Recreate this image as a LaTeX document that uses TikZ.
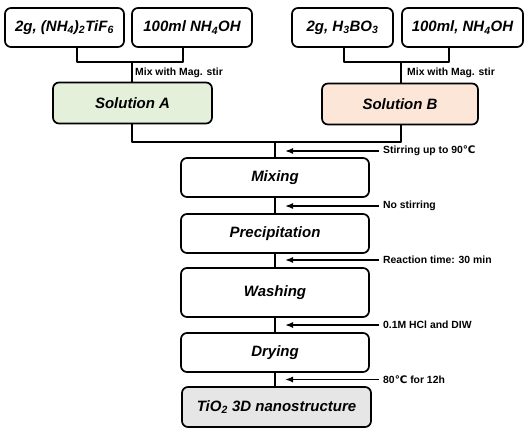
\documentclass[tikz,border=0pt]{standalone}
\usepackage{fontspec}
\setmainfont{Liberation Sans}
\newfontfamily\degfont{DejaVu Sans}
\usetikzlibrary{arrows.meta}

\definecolor{solAfill}{HTML}{E4F0DA}
\definecolor{solBfill}{HTML}{FCE6D8}
\definecolor{prodfill}{HTML}{E6E6E6}

\newcommand{\degC}{{\degfont\bfseries ℃}}

\tikzset{
  stepbox/.style={draw, line width=1.7pt, rounded corners=6pt, align=center,
    inner sep=0pt, font=\bfseries\itshape\fontsize{15}{18}\selectfont},
  link/.style={line width=1.5pt},
  cond/.style={-{Latex[length=8pt,width=6pt]}, line width=1.5pt},
  note/.style={anchor=west, inner sep=1pt, font=\bfseries\fontsize{10.4}{12}\selectfont}
}

\begin{document}
\begin{tikzpicture}[x=1pt, y=-1pt, line join=round]
\useasboundingbox (0,0) rectangle (530,434);

% starting materials
\node[stepbox, minimum width=119pt, minimum height=39pt] (amF) at (64.5,27.5) {2g, (NH\textsubscript{4})\textsubscript{2}TiF\textsubscript{6}};
\node[stepbox, minimum width=120pt, minimum height=39pt] (amA) at (192,27.5) {100ml NH\textsubscript{4}OH};
\node[stepbox, minimum width=101pt, minimum height=39pt] (boric) at (342.5,27.5) {2g, H\textsubscript{3}BO\textsubscript{3}};
\node[stepbox, minimum width=121pt, minimum height=39pt] (amB) at (462.5,27.5) {100ml, NH\textsubscript{4}OH};

% solutions
\node[stepbox, fill=solAfill, minimum width=159pt, minimum height=41pt] (solA) at (132.5,103) {Solution A};
\node[stepbox, fill=solBfill, minimum width=156pt, minimum height=41pt] (solB) at (400,104) {Solution B};

% process steps
\node[stepbox, minimum width=188pt, minimum height=39pt] (mix) at (275,177.5) {Mixing};
\node[stepbox, minimum width=188pt, minimum height=39pt] (prec) at (275,233.5) {Precipitation};
\node[stepbox, minimum width=188pt, minimum height=49pt] (wash) at (275,292.5) {Washing};
\node[stepbox, minimum width=188pt, minimum height=39pt] (dry) at (275,352.5) {Drying};
\node[stepbox, fill=prodfill, minimum width=189pt, minimum height=40pt] (prod) at (276.5,407) {TiO\textsubscript{2} 3D nanostructure};

% junctions
\coordinate (jA) at (132,62);
\coordinate (jB) at (401,62);
\coordinate (jM) at (275,142);

\draw[link] ([xshift=12.5pt]amF.south) |- (jA) -| ([xshift=-9pt]amA.south);
\draw[link] (jA) -- (solA.north -| jA);
\node[note] (mixA) at (134,73) {Mix with Mag. stir};

\draw[link] ([xshift=1.5pt]boric.south) |- (jB) -| ([xshift=-13.5pt]amB.south);
\draw[link] (jB) -- (solB.north -| jB);
\node[note] (mixB) at (406,73) {Mix with Mag. stir};

\draw[link] (solA.south -| jA) |- (jM) -| (solB.south -| jB);
\draw[link] (jM) -- (mix.north);
\draw[link] (mix.south) -- (prec.north);
\draw[link] (prec.south) -- (wash.north);
\draw[link] (wash.south) -- (dry.north);
\draw[link] (dry.south) -- (prod.north -| dry.south);

% conditions
\node[note] (c1) at (382,151) {Stirring up to 90\degC};
\node[note] (c2) at (382,206) {No stirring};
\node[note] (c3) at (382,260) {Reaction time: 30 min};
\node[note] (c4) at (382,325) {0.1M HCl and DIW};
\node[note] (c5) at (382,379.5) {80\degC{} for 12h};

\foreach \c in {c1,c2,c3,c4,c5}
  \draw[cond] ([xshift=-3pt]\c.west) -- ++(-94,0);

\end{tikzpicture}
\end{document}
